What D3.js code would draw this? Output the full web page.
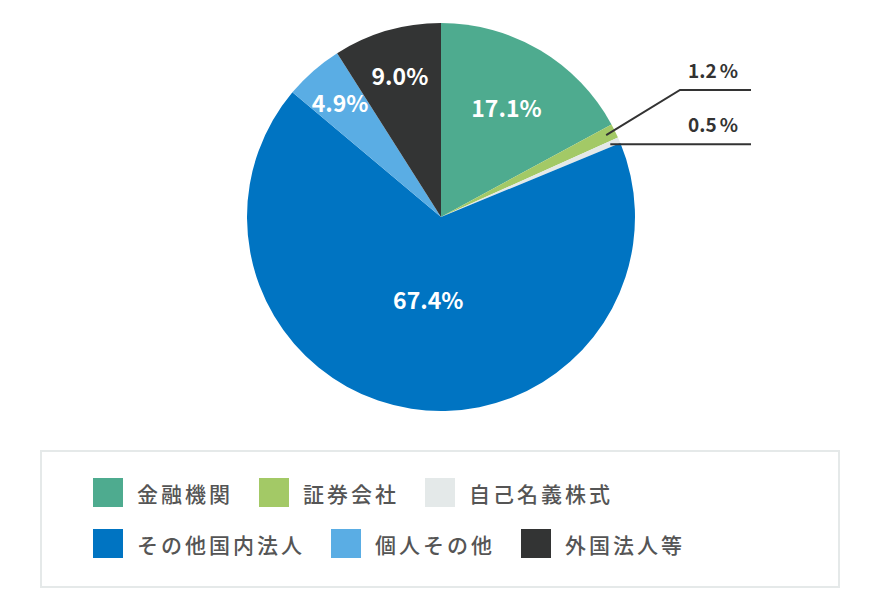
<!DOCTYPE html>
<html><head><meta charset="utf-8">
<script src="https://cdn.jsdelivr.net/npm/d3@7"></script>
<style>
html,body{margin:0;padding:0;background:#fff;}
svg{display:block;}
text{font-family:"Noto Sans CJK JP","Noto Sans",sans-serif;}
</style></head>
<body>
<svg id="chart" width="882" height="606"></svg>
<script>
const categories = ["金融機関","証券会社","自己名義株式","その他国内法人","個人その他","外国法人等"];
const values = [17.1, 1.2, 0.5, 67.4, 4.9, 9.0];
const colors = ["#4eab8f","#a3c966","#e4e9e9","#0074c2","#5aade4","#333434"];
const valueLabels = ["17.1%","1.2%","0.5%","67.4%","4.9%","9.0%"];
const legendRows = [[0,1,2],[3,4,5]];

// label placement config (not data)
const insideLabelRadius = {0:0.66, 3:0.43, 4:0.79, 5:0.76};
const calloutIdx = [1,2];

const svg = d3.select("#chart");
const cx = 441, cy = 217, R = 194;

const pie = d3.pie().sort(null).value(d => d.v);
const data = categories.map((c,i)=>({c, v: values[i], i}));
const arcs = pie(data);
const arcGen = d3.arc().innerRadius(0).outerRadius(R);

const g = svg.append("g").attr("transform",`translate(${cx},${cy})`);
g.selectAll("path").data(arcs).join("path")
  .attr("d", arcGen)
  .attr("fill", d => colors[d.data.i]);

// inside labels
arcs.forEach(a => {
  const k = insideLabelRadius[a.data.i];
  if (k === undefined) return;
  const mid = (a.startAngle + a.endAngle)/2;
  const r = R*k;
  g.append("text")
    .attr("x", Math.sin(mid)*r)
    .attr("y", -Math.cos(mid)*r)
    .attr("text-anchor","middle")
    .attr("dominant-baseline","central")
    .attr("fill","#fff")
    .attr("font-weight","700")
    .attr("font-size", 23)
    .text(valueLabels[a.data.i]);
});

// callouts
const lineEndX = 751 - cx;
const elbow = {1:{dx: 680 - cx, dy: 90 - cy}};
arcs.forEach(a => {
  if (!calloutIdx.includes(a.data.i)) return;
  const mid = (a.startAngle + a.endAngle)/2;
  const r = R*0.95;
  const sx = Math.sin(mid)*r, sy = -Math.cos(mid)*r;
  let pts;
  if (elbow[a.data.i]) {
    const e = elbow[a.data.i];
    pts = [[sx,sy],[e.dx,e.dy],[lineEndX,e.dy]];
  } else {
    pts = [[sx,sy],[lineEndX,sy]];
  }
  const ly = pts[pts.length-1][1];
  g.append("path")
    .attr("d", d3.line()(pts))
    .attr("fill","none")
    .attr("stroke","#333")
    .attr("stroke-width",2);
  const lbl = valueLabels[a.data.i];
  const t = g.append("text")
    .attr("x", 738 - cx)
    .attr("y", ly - 12)
    .attr("text-anchor","end")
    .attr("fill","#333")
    .attr("font-weight","700")
    .attr("font-size",19);
  t.append("tspan").text(lbl.replace("%",""));
  t.append("tspan").attr("dx",3).text("%");
});

// legend
svg.append("rect")
  .attr("x",41).attr("y",451).attr("width",798).attr("height",136)
  .attr("fill","#fff").attr("stroke","#e5e9e9").attr("stroke-width",2);

const rowY = [478, 529];
legendRows.forEach((row, ri) => {
  let x = 93;
  row.forEach(i => {
    svg.append("rect")
      .attr("x", x).attr("y", rowY[ri]).attr("width",30).attr("height",29)
      .attr("fill", colors[i]);
    const t = svg.append("text")
      .attr("x", x + 44).attr("y", rowY[ri] + 15)
      .attr("dominant-baseline","central")
      .attr("fill","#555")
      .attr("font-size",21)
      .attr("font-weight","500")
      .attr("letter-spacing","3px")
      .text(categories[i]);
    const w = t.node().getComputedTextLength();
    x = x + 44 + w + 26;
  });
});
</script>
</body></html>
